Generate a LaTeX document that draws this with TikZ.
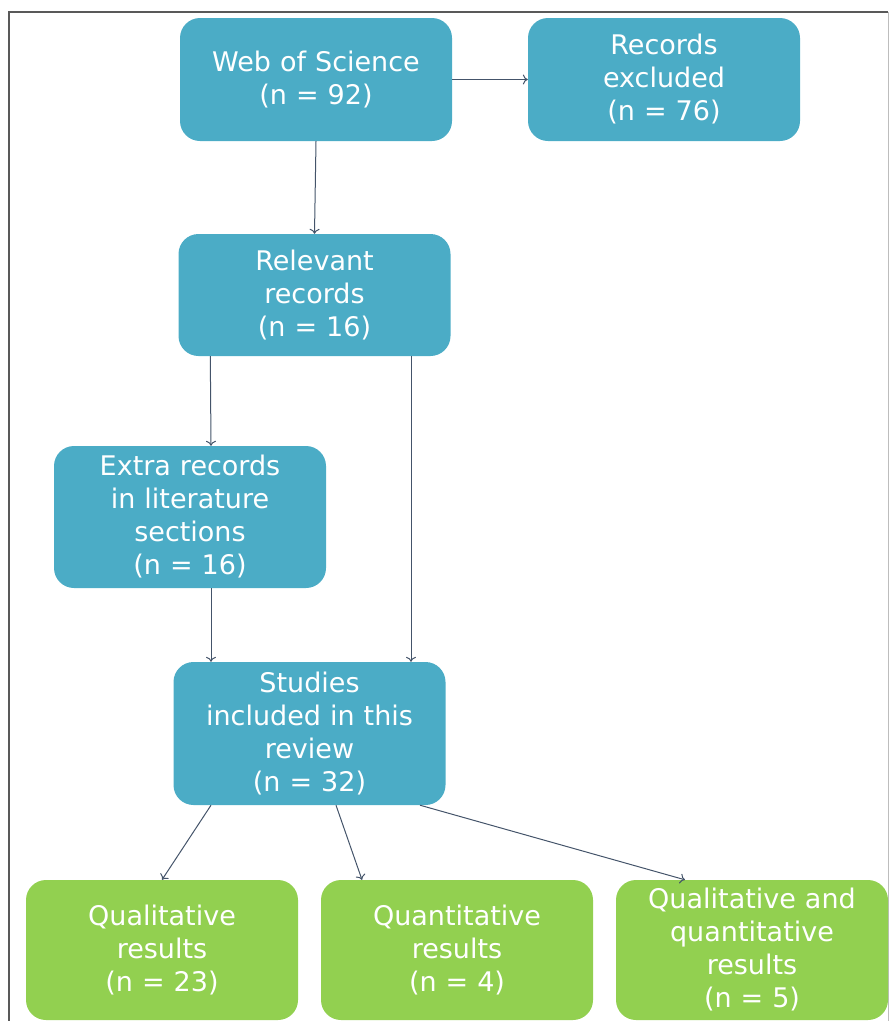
\documentclass[tikz,border=0pt]{standalone}
\usepackage{fontspec}
\setmainfont{DejaVu Sans}
\usetikzlibrary{arrows,arrows.meta,positioning,shapes}
\usepackage{xcolor}
\definecolor{tealbox}{RGB}{75,172,198}
\definecolor{greenbox}{RGB}{146,208,80}
\definecolor{arrowline}{RGB}{68,84,106}
\definecolor{framegray}{RGB}{89,89,89}

\begin{document}
\begin{tikzpicture}[x=1pt, y=-1pt, >={To[length=5pt, width=10pt]}, every node/.style={
    rectangle,
    rounded corners=20pt,
    inner sep=3pt,
    draw=none,
    fill=tealbox,
    text=white,
    align=center,
    text width=262pt,
    minimum width=272pt,
    minimum height=123pt,
    font=\fontsize{27}{33}\selectfont
}]
    \useasboundingbox (0, 0) rectangle (889, 1021);
    \draw[framegray, line width=1.5pt] (9, 1021) -- (9, 12) -- (888, 12);
    \draw[framegray!40, line width=1pt] (888, 12) -- (888, 1021);

    \node (web_of_science) [shift={(316, 79.5)}]
    {
        Web of Science\\(n = 92)
    };
    \node (records_excluded) [shift={(664, 79.5)}]
    {
        Records\\excluded\\(n = 76)
    };
    \node (relevant_records) [shift={(314.5, 295)}, minimum height=122pt]
    {
        Relevant\\records\\(n = 16)
    };
    \node (extra_records) [shift={(190, 517)}, minimum height=142pt]
    {
        Extra records\\in literature\\sections\\(n = 16)
    };
    \node (studies_included) [shift={(309.5, 733.5)}, minimum height=143pt]
    {
        Studies\\included in this\\review\\(n = 32)
    };
    \node (qualitative_results) [fill=greenbox, shift={(162, 950)}, minimum height=140pt]
    {
        Qualitative\\results\\(n = 23)
    };
    \node (quantitative_results) [fill=greenbox, shift={(457, 950)}, minimum height=140pt]
    {
        Quantitative\\results\\(n = 4)
    };
    \node (mixed_results) [fill=greenbox, shift={(752, 950)}, minimum height=140pt]
    {
        Qualitative and\\quantitative\\results\\(n = 5)
    };

    \draw[->, arrowline, line width=1pt] (web_of_science) to (records_excluded);
    \draw[->, arrowline, line width=1pt] (web_of_science.south) to (relevant_records.north);
    \draw[->, arrowline, line width=1pt] ([xshift=32pt]relevant_records.south west) to ([xshift=21pt]extra_records.north);
    \draw[->, arrowline, line width=1pt] ([xshift=96.5pt]relevant_records.south) to ([xshift=101.5pt]studies_included.north);
    \draw[->, arrowline, line width=1pt] ([xshift=21pt]extra_records.south) to ([xshift=-98.5pt]studies_included.north);
    \draw[->, arrowline, line width=1pt] ([xshift=-98.5pt]studies_included.south) to (qualitative_results.north);
    \draw[->, arrowline, line width=1pt] ([xshift=26.5pt]studies_included.south) to ([xshift=-95pt]quantitative_results.north);
    \draw[->, arrowline, line width=1pt] ([xshift=110.5pt]studies_included.south) to ([xshift=-67pt]mixed_results.north);
\end{tikzpicture}
\end{document}
